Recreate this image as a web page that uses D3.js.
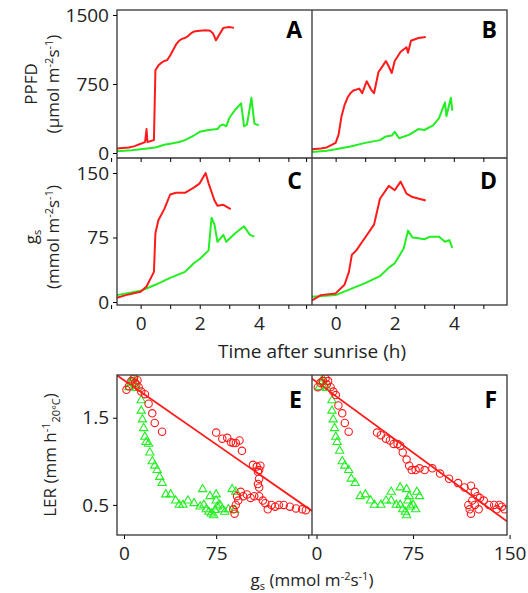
<!DOCTYPE html>
<html><head><meta charset="utf-8">
<script src="https://cdn.jsdelivr.net/npm/d3@7"></script>
<style>body{margin:0;background:#fff}text{font-family:"Open Sans",sans-serif}</style>
</head><body><svg id="c" width="528" height="593"></svg>
<script>
// time series [hours after sunrise, value]
const ppfdRedA = [[-0.8,50],[-0.6,55],[-0.4,60],[-0.2,75],[0,100],[0.15,120],[0.2,260],[0.23,120],[0.45,140],[0.5,900],[0.6,950],[0.7,980],[0.8,1000],[0.9,1010],[1.0,1060],[1.1,1120],[1.2,1180],[1.3,1220],[1.4,1240],[1.5,1250],[1.6,1270],[1.7,1300],[1.8,1320],[2.0,1330],[2.2,1335],[2.35,1330],[2.45,1300],[2.55,1225],[2.65,1280],[2.8,1360],[3.0,1370],[3.16,1360]];
const ppfdGreenA = [[-0.8,20],[-0.3,30],[0,40],[0.5,60],[0.8,90],[1,100],[1.3,120],[1.5,140],[1.8,190],[2,230],[2.3,250],[2.6,260],[2.7,300],[2.8,310],[2.9,290],[3.0,380],[3.2,470],[3.4,540],[3.5,290],[3.6,310],[3.75,600],[3.85,320],[4.0,300]];
const ppfdRedB = [[-0.8,40],[-0.5,50],[-0.3,60],[0,110],[0.1,200],[0.2,400],[0.3,520],[0.4,600],[0.5,650],[0.6,680],[0.8,700],[0.9,650],[1.05,780],[1.2,690],[1.3,650],[1.45,880],[1.6,950],[1.7,1000],[1.8,940],[1.9,870],[2.0,1000],[2.2,1100],[2.4,1150],[2.45,1090],[2.55,1220],[2.8,1250],[3.05,1260]];
const ppfdGreenB = [[-0.8,10],[-0.3,25],[0,40],[0.5,70],[1,110],[1.5,140],[1.7,180],[1.9,190],[2.0,230],[2.15,160],[2.5,200],[2.8,260],[3.0,250],[3.3,300],[3.5,380],[3.7,550],[3.75,400],[3.9,600],[3.95,460]];
const gsRedC = [[-0.8,5],[-0.5,8],[0,12],[0.2,18],[0.45,35],[0.5,80],[0.6,95],[0.8,108],[1.0,125],[1.2,127],[1.5,127],[1.8,133],[2.0,138],[2.2,150],[2.3,138],[2.5,118],[2.6,112],[2.8,113],[3.05,108]];
const gsGreenC = [[-0.8,8],[0,13],[0.5,20],[1,28],[1.5,35],[1.8,45],[2,50],[2.3,60],[2.4,98],[2.5,90],[2.6,70],[2.8,78],[2.9,70],[3.2,80],[3.5,88],[3.7,78],[3.85,76]];
const gsRedD = [[-0.8,2],[-0.5,8],[0,10],[0.3,20],[0.45,35],[0.55,55],[0.7,60],[1.0,75],[1.3,90],[1.5,120],[1.8,135],[2.0,130],[2.2,140],[2.4,126],[2.6,122],[3.05,118]];
const gsGreenD = [[-0.8,6],[0,8],[0.5,15],[1,22],[1.5,30],[1.8,40],[2,45],[2.3,62],[2.45,83],[2.6,75],[2.8,74],[3.0,73],[3.2,76],[3.5,76],[3.7,70],[3.85,72],[3.95,63]];
// scatter [gs, LER]
const lerRedE = [[2,1.82],[4,1.86],[6,1.92],[8,1.95],[9,1.9],[10,1.88],[11,1.93],[12,1.85],[14,1.8],[17,1.77],[20,1.66],[23,1.55],[25,1.44],[31,1.34],[75,1.33],[80,1.26],[84,1.27],[87,1.22],[89,1.21],[91,1.21],[94,1.24],[96,1.12],[105,0.96],[108,0.94],[109,0.88],[110,0.9],[111,0.95],[110,0.8],[109,0.74],[110,0.7],[89,0.45],[90,0.4],[91,0.5],[92,0.6],[93,0.55],[95,0.65],[97,0.6],[100,0.62],[103,0.58],[106,0.6],[110,0.6],[113,0.55],[115,0.52],[117,0.45],[120,0.5],[123,0.48],[126,0.5],[130,0.5],[135,0.48],[140,0.46],[145,0.45],[148,0.44]];
const lerGreenE = [[4,1.85],[6,1.9],[7,1.95],[8,1.98],[9,1.88],[10,1.84],[14,1.7],[14,1.58],[15,1.48],[16,1.38],[17,1.28],[18,1.22],[20,1.2],[21,1.1],[23,1.0],[25,0.95],[27,0.9],[29,0.82],[31,0.75],[34,0.62],[38,0.62],[42,0.55],[45,0.5],[48,0.5],[52,0.55],[57,0.52],[62,0.48],[65,0.5],[67,0.45],[69,0.42],[71,0.4],[73,0.38],[74,0.44],[75,0.55],[76,0.48],[78,0.5],[80,0.45],[82,0.42],[85,0.45],[90,0.44],[64,0.68],[70,0.6],[75,0.62],[88,0.68],[91,0.65]];
const lerRedF = [[1,1.85],[3,1.9],[5,1.92],[7,1.95],[8,1.88],[9,1.92],[11,1.85],[13,1.8],[15,1.76],[17,1.64],[20,1.55],[22,1.44],[25,1.34],[47,1.33],[50,1.3],[54,1.26],[57,1.24],[60,1.2],[63,1.2],[65,1.18],[67,1.1],[70,1.02],[72,0.95],[74,0.9],[77,0.9],[80,0.92],[84,0.9],[90,0.92],[96,0.86],[103,0.8],[110,0.75],[115,0.7],[120,0.72],[123,0.65],[125,0.6],[127,0.58],[118,0.5],[119,0.45],[120,0.4],[121,0.55],[123,0.5],[126,0.45],[130,0.55],[134,0.5],[138,0.5],[140,0.45],[142,0.5],[144,0.48],[146,0.45]];
const lerGreenF = [[2,1.85],[4,1.92],[5,1.95],[6,1.88],[8,1.84],[12,1.7],[12,1.58],[13,1.48],[14,1.38],[15,1.28],[16,1.22],[18,1.12],[20,1.0],[22,0.95],[25,0.9],[27,0.8],[30,0.75],[34,0.6],[38,0.62],[42,0.55],[45,0.5],[50,0.5],[54,0.55],[58,0.55],[62,0.5],[65,0.5],[67,0.45],[69,0.42],[70,0.38],[71,0.55],[72,0.6],[73,0.48],[75,0.5],[77,0.45],[58,0.65],[65,0.7],[70,0.68],[78,0.65],[80,0.6]];
// regression lines [intercept, slope]
const fitE = [1.93, -0.0098];
const fitF = [1.91, -0.0108];

const red = "#ff1a1a", green = "#22ee22";
const FS = 19;
const svg = d3.select("#c");
const xL = 117, xM = 312, xR = 507;
const tx = [d3.scaleLinear().domain([-0.8, 5.8]).range([xL, xM]), d3.scaleLinear().domain([-0.8, 5.8]).range([xM, xR])];
const rowPPFD = d3.scaleLinear().domain([0, 1500]).range([153, 15]);
const rowGs = d3.scaleLinear().domain([0, 150]).range([302, 173]);
const sx = [d3.scaleLinear().domain([-5.7, 153]).range([xL, xM]), d3.scaleLinear().domain([-3.5, 148]).range([xM, xR])];
const sy = d3.scaleLinear().domain([0.155, 1.99]).range([535, 375]);

function frame(x0, x1, y0, y1) {
  svg.append("rect").attr("x", x0).attr("y", y0).attr("width", x1 - x0).attr("height", y1 - y0)
    .attr("fill", "none").attr("stroke", "#333").attr("stroke-width", 1.3);
}
function label(x, y, t) {
  svg.append("text").attr("x", x).attr("y", y).attr("text-anchor", "end")
    .attr("font-size", 23).attr("font-weight", "bold").text(t);
}
function styleText(g, dy) {
  g.select(".domain").remove();
  g.selectAll("text").attr("font-size", FS).attr("fill", "#222").attr("font-family", "Open Sans");
  if (dy) g.selectAll("text").attr("dy", dy);
}
function yAxis(scale, ticks, x, fmt) {
  const g = svg.append("g").attr("transform", `translate(${x},0)`)
    .call(d3.axisLeft(scale).tickValues(ticks).tickSize(4).tickPadding(4).tickFormat(fmt || d3.format("d")));
  styleText(g);
}
function xTicks(scale, ticks, y) {
  const g = svg.append("g").attr("transform", `translate(0,${y})`)
    .call(d3.axisBottom(scale).tickValues(ticks).tickSize(4).tickFormat(""));
  styleText(g);
}
function xLabels(scale, ticks, y) {
  const g = svg.append("g").attr("transform", `translate(0,${y})`)
    .call(d3.axisBottom(scale).tickValues(ticks).tickSize(0).tickFormat(d3.format("d")));
  styleText(g, "1.15em");
}
const line = (xs, ys) => d3.line().x(d => xs(d[0])).y(d => ys(d[1]));
function series(data, xs, ys, col) {
  svg.append("path").datum(data).attr("d", line(xs, ys)).attr("fill", "none")
    .attr("stroke", col).attr("stroke-width", 2).attr("stroke-linejoin", "round");
}

// time panels
[[ppfdRedA, ppfdGreenA, 0, rowPPFD], [ppfdRedB, ppfdGreenB, 1, rowPPFD], [gsRedC, gsGreenC, 0, rowGs], [gsRedD, gsGreenD, 1, rowGs]]
  .forEach(([r, g, c, ys]) => { series(g, tx[c], ys, green); series(r, tx[c], ys, red); });
frame(xL, xR, 10, 305);
svg.append("line").attr("x1", xL).attr("x2", xR).attr("y1", 158).attr("y2", 158).attr("stroke", "#333").attr("stroke-width", 1.3);
svg.append("line").attr("x1", xM).attr("x2", xM).attr("y1", 10).attr("y2", 305).attr("stroke", "#333").attr("stroke-width", 1.3);
yAxis(rowPPFD, [0, 750, 1500], xL);
yAxis(rowGs, [0, 75, 150], xL);
[0, 1].forEach(c => {
  xTicks(tx[c], [-1, 0, 1, 2, 3, 4, 5], 305);
  xTicks(tx[c], [-1, 0, 1, 2, 3, 4, 5], 158);
  xLabels(tx[c], [0, 2, 4], 305);
});
label(302, 38, "A"); label(497, 38, "B"); label(302, 189, "C"); label(497, 189, "D");
svg.append("text").attr("x", 312).attr("y", 358).attr("text-anchor", "middle").attr("font-size", 19).attr("fill", "#222").text("Time after sunrise (h)");
function yTitle(cx, cy) {
  return svg.append("text").attr("transform", `translate(${cx},${cy}) rotate(-90)`).attr("text-anchor", "middle").attr("font-size", 17).attr("fill", "#222");
}
function unitSpans(t, pre) {
  t.append("tspan").text(pre); t.append("tspan").attr("dy", -6).attr("font-size", 11).text("-2");
  t.append("tspan").attr("dy", 6).text("s"); t.append("tspan").attr("dy", -6).attr("font-size", 11).text("-1");
  t.append("tspan").attr("dy", 6).text(")");
}
let t = yTitle(37, 84); t.text("PPFD");
t = yTitle(59, 84); unitSpans(t, "(µmol m");
t = yTitle(37, 237); t.append("tspan").text("g"); t.append("tspan").attr("dy", 4).attr("font-size", 11).text("s");
t = yTitle(59, 237); unitSpans(t, "(mmol m");

// scatter panels
const defs = svg.append("defs");
[[lerRedE, lerGreenE, fitE, 0], [lerRedF, lerGreenF, fitF, 1]].forEach(([r, g, fit, c]) => {
  defs.append("clipPath").attr("id", "cl" + c).append("rect").attr("x", c ? xM : xL).attr("y", 375).attr("width", xM - xL).attr("height", 160);
  const p = svg.append("g").attr("clip-path", `url(#cl${c})`);
  const [x0, x1] = sx[c].domain();
  p.append("line").attr("x1", sx[c](x0)).attr("y1", sy(fit[0] + fit[1] * x0)).attr("x2", sx[c](x1)).attr("y2", sy(fit[0] + fit[1] * x1))
    .attr("stroke", red).attr("stroke-width", 1.8);
  p.selectAll(".tri").data(g).join("path").attr("d", d3.symbol(d3.symbolTriangle, 30))
    .attr("transform", d => `translate(${sx[c](d[0])},${sy(d[1])})`).attr("fill", "none").attr("stroke", green).attr("stroke-width", 1.1);
  p.selectAll(".cir").data(r).join("circle").attr("cx", d => sx[c](d[0])).attr("cy", d => sy(d[1])).attr("r", 3.7)
    .attr("fill", "none").attr("stroke", red).attr("stroke-width", 1.1);
  xTicks(sx[c], [0, 75, 150], 535);
  xLabels(sx[c], c ? [0, 75, 150] : [0, 75], 535);
});
frame(xL, xR, 375, 535);
svg.append("line").attr("x1", xM).attr("x2", xM).attr("y1", 375).attr("y2", 535).attr("stroke", "#333").attr("stroke-width", 1.3);
yAxis(sy, [0.5, 1.5], xL, d3.format(".1f"));
label(302, 408, "E"); label(497, 408, "F");
t = yTitle(56, 455); t.append("tspan").text("LER (mm h"); t.append("tspan").attr("dy", -6).attr("font-size", 11).text("-1");
t.append("tspan").attr("dy", 10).attr("font-size", 11).text("20°C"); t.append("tspan").attr("dy", -4).text(")");
t = svg.append("text").attr("x", 312).attr("y", 586).attr("text-anchor", "middle").attr("font-size", 17).attr("fill", "#222");
t.append("tspan").text("g"); t.append("tspan").attr("dy", 4).attr("font-size", 11).text("s"); t.append("tspan").attr("dy", -4).text(" (mmol m");
t.append("tspan").attr("dy", -6).attr("font-size", 11).text("-2"); t.append("tspan").attr("dy", 6).text("s");
t.append("tspan").attr("dy", -6).attr("font-size", 11).text("-1"); t.append("tspan").attr("dy", 6).text(")");
</script></body></html>
